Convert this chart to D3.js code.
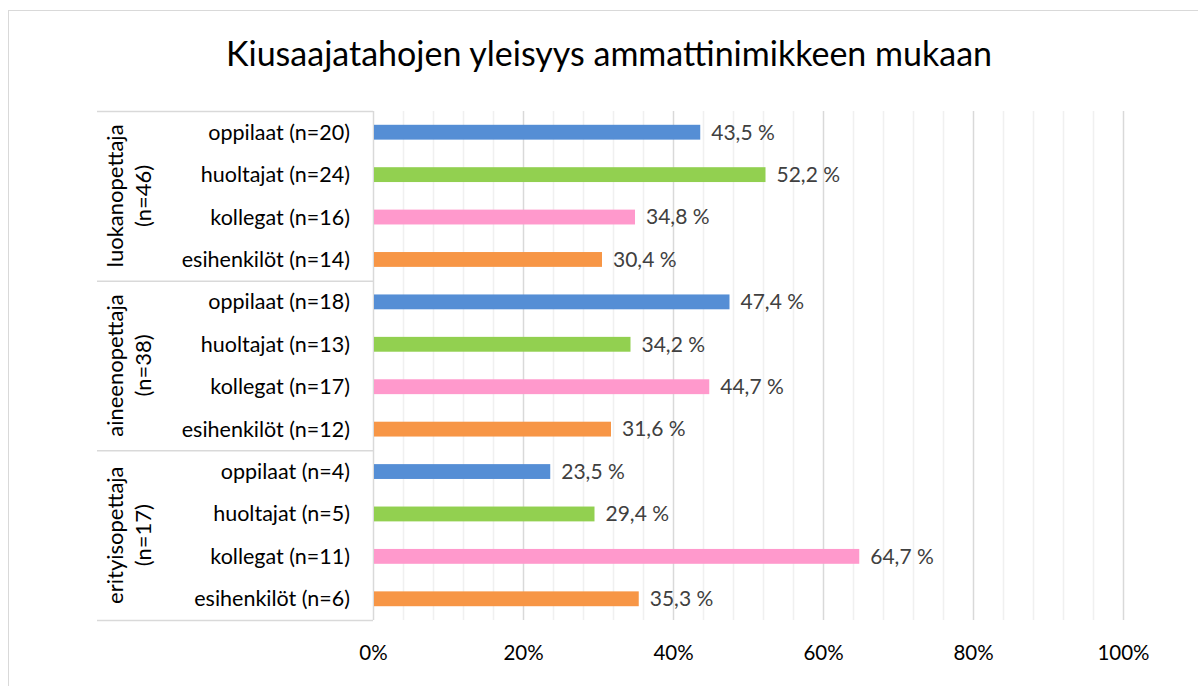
<!DOCTYPE html>
<html>
<head>
<meta charset="utf-8">
<script src="https://cdn.jsdelivr.net/npm/d3@7"></script>
<style>
    body { margin: 0; background: #fff; }
    text { font-family: Lato, "Open Sans", sans-serif; }
</style>
</head>
<body>
<div id="chart"></div>
<script>
// data
var groups = ["luokanopettaja", "aineenopettaja", "erityisopettaja"];
var groupN = [46, 38, 17];
var categories = ["oppilaat", "huoltajat", "kollegat", "esihenkilöt"];
var counts = [
    [20, 24, 16, 14],
    [18, 13, 17, 12],
    [4, 5, 11, 6]
];
var values = [
    [43.5, 52.2, 34.8, 30.4],
    [47.4, 34.2, 44.7, 31.6],
    [23.5, 29.4, 64.7, 35.3]
];
var colors = ["#558ed5", "#92d050", "#ff99cc", "#f79646"];
var ticks = [0, 20, 40, 60, 80, 100];

var W = 1198, H = 686;
var plot = { left: 373, right: 1123, top: 111, bottom: 620 };

// flatten rows
var rows = [];
groups.forEach(function(g, gi) {
    categories.forEach(function(c, ci) {
        rows.push({
            id: gi + "-" + ci,
            group: gi,
            cat: ci,
            label: c + " (n=" + counts[gi][ci] + ")",
            value: values[gi][ci]
        });
    });
});

var svg = d3.select("#chart").append("svg")
    .attr("width", W)
    .attr("height", H);

// outer frame
svg.append("rect")
    .attr("x", 8.5).attr("y", 10.5)
    .attr("width", W + 20).attr("height", H + 20)
    .attr("fill", "#fff")
    .attr("stroke", "#d9d9d9");

svg.append("text")
    .attr("x", 609)
    .attr("y", 66)
    .attr("text-anchor", "middle")
    .style("font-size", "34px")
    .style("fill", "#000")
    .text("Kiusaajatahojen yleisyys ammattinimikkeen mukaan");

var x = d3.scaleLinear().domain([0, 100]).range([plot.left, plot.right]);
var y = d3.scaleBand()
    .domain(rows.map(function(d) { return d.id; }))
    .range([plot.top, plot.bottom])
    .paddingInner(0.65)
    .paddingOuter(0.325);

// minor gridlines every 4 %
var minor = d3.range(4, 101, 4).filter(function(v) { return v % 20 != 0; });
svg.append("g").selectAll("line")
    .data(minor)
    .enter().append("line")
    .attr("x1", function(d) { return x(d) + 0.5; })
    .attr("x2", function(d) { return x(d) + 0.5; })
    .attr("y1", plot.top)
    .attr("y2", plot.bottom)
    .attr("stroke", "#f0f0f0")
    .attr("stroke-width", 1.5);

svg.append("g").selectAll("line")
    .data(ticks.slice(1))
    .enter().append("line")
    .attr("x1", function(d) { return x(d) + 0.5; })
    .attr("x2", function(d) { return x(d) + 0.5; })
    .attr("y1", plot.top)
    .attr("y2", plot.bottom)
    .attr("stroke", "#d9d9d9")
    .attr("stroke-width", 1.5);

// x axis labels
var xAxis = svg.append("g")
    .attr("transform", "translate(0," + (plot.bottom + 19) + ")")
    .call(d3.axisBottom(x).tickValues(ticks).tickSize(0).tickPadding(0)
        .tickFormat(function(d) { return d + "%"; }));
xAxis.select(".domain").remove();
xAxis.selectAll("text")
    .attr("dy", "1.0em")
    .style("font-size", "20.5px")
    .style("font-family", "Lato, sans-serif")
    .style("fill", "#000");

// left label table
var tbl = svg.append("g");
var gh = (plot.bottom - plot.top) / groups.length;
tbl.append("line")
    .attr("x1", plot.left + 0.5).attr("x2", plot.left + 0.5)
    .attr("y1", plot.top).attr("y2", plot.bottom)
    .attr("stroke", "#d9d9d9").attr("stroke-width", 1.5);
d3.range(groups.length + 1).forEach(function(i) {
    tbl.append("line")
        .attr("x1", 97).attr("x2", plot.left)
        .attr("y1", plot.top + i * gh + 0.5)
        .attr("y2", plot.top + i * gh + 0.5)
        .attr("stroke", "#d9d9d9").attr("stroke-width", 1.5);
});

var gl = tbl.selectAll(".glabel")
    .data(groups)
    .enter().append("text")
    .attr("class", "glabel")
    .attr("transform", function(d, i) {
        return "translate(129," + (plot.top + (i + 0.5) * gh) + ") rotate(-90)";
    })
    .attr("text-anchor", "middle")
    .style("font-size", "22px")
    .style("fill", "#000");
gl.append("tspan").attr("x", 0).attr("y", -14).attr("dy", "0.35em").text(function(d) { return d; });
gl.append("tspan").attr("x", 0).attr("y", 14).attr("dy", "0.35em").text(function(d, i) { return "(n=" + groupN[i] + ")"; });

svg.append("g").selectAll("text")
    .data(rows)
    .enter().append("text")
    .attr("x", 350)
    .attr("y", function(d) { return y(d.id) + y.bandwidth() / 2; })
    .attr("dy", "0.35em")
    .attr("text-anchor", "end")
    .style("font-size", "21.5px")
    .style("fill", "#000")
    .text(function(d) { return d.label; });

// bars
svg.append("g").selectAll("rect")
    .data(rows)
    .enter().append("rect")
    .attr("x", x(0) + 1)
    .attr("y", function(d) { return y(d.id); })
    .attr("width", function(d) { return x(d.value) - x(0); })
    .attr("height", y.bandwidth())
    .attr("fill", function(d) { return colors[d.cat]; });

// value labels
svg.append("g").selectAll("text")
    .data(rows)
    .enter().append("text")
    .attr("x", function(d) { return x(d.value) + 12; })
    .attr("y", function(d) { return y(d.id) + y.bandwidth() / 2; })
    .attr("dy", "0.35em")
    .style("font-size", "21px")
    .style("fill", "#404040")
    .text(function(d) { return d.value.toFixed(1).replace(".", ",") + " %"; });
</script>
</body>
</html>
